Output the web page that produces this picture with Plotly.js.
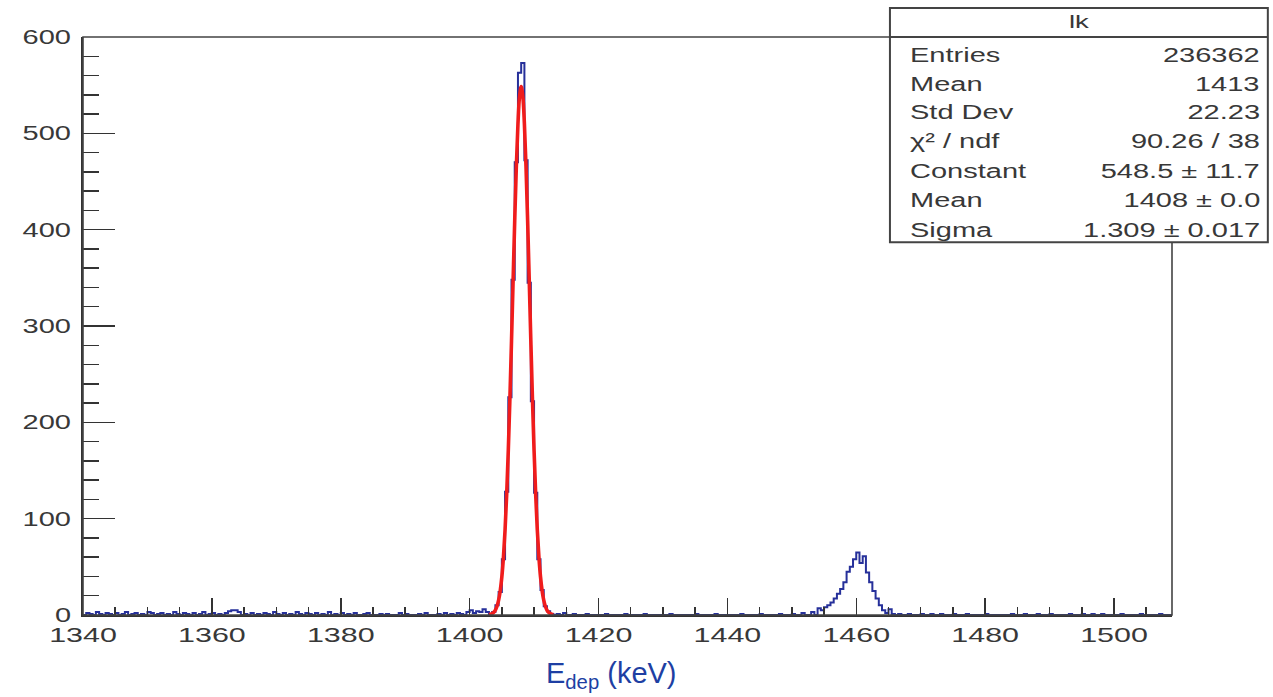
<!DOCTYPE html>
<html>
<head>
<meta charset="utf-8">
<script src="https://cdn.plot.ly/plotly-3.0.1.min.js"></script>
<style>
html,body{margin:0;padding:0;background:#fff;}
#plot{width:1273px;height:697px;}
</style>
</head>
<body>
<div id="plot"></div>
<script>
// ---------------- data ----------------
const xMin = 1340, xMax = 1509, binWidth = 0.5;

// main peak bins (low edges start at peak1Start)
const peak1Start = 1403.0;
const peak1Counts = [1, 3, 10, 24, 58, 128, 226, 348, 470, 563, 573, 472, 345, 222, 127, 58, 26, 9, 4, 1];

// second peak bins
const peak2Start = 1454.0;
const peak2Counts = [7, 5, 8, 10, 13, 17, 22, 27, 34, 45, 50, 58, 65, 54, 61, 44, 34, 25, 17, 10, 5, 2, 6, 1];

// sparse background bins (low edge, counts)
const noiseX = [1340.5,1341,1342,1342.5,1343.5,1344,1345,1346,1346.5,1347.5,1348,1349,1350,1350.5,1351.5,1352,1353,1354,1354.5,1355.5,1356,1357,1358,1358.5,1359.5,1360,1361,1362,1362.5,1363,1363.5,1364,1365,1366,1367,1368,1368.5,1369.5,1370,1371,1372,1373,1373.5,1374.5,1375,1376,1377,1378,1379,1380,1381,1382,1383.5,1384,1386,1387,1389,1390,1392,1393,1395,1396,1397,1398,1398.5,1399.5,1400,1400.5,1401,1401.5,1402,1402.5,
  1413.5,1414.5,1416,1418,1421,1424,1427,1431,1435,1438,1442,1445,1448,1450,1451.5,1453,
  1466.5,1468,1470,1471.5,1473,1475,1477,1480,1484,1486,1488,1490,1493,1495,1496.5,1498,1501,1504,1507];
const noiseY = [2,1,3,1,2,1,2,1,3,1,2,1,3,2,1,2,1,3,1,2,1,2,1,3,1,2,1,2,4,5,5,3,1,2,1,2,1,3,1,2,1,3,1,2,1,2,1,3,1,2,1,2,1,2,1,1,2,1,1,2,1,2,1,2,1,3,5,2,4,3,6,3,
  1,2,1,1,1,1,1,1,1,1,1,1,1,1,2,3,
  1,1,1,1,1,1,1,1,1,1,1,1,1,1,1,1,1,1,1];

// Gaussian fit curve points
const fitX = [1403,1403.25,1403.5,1403.75,1404,1404.25,1404.5,1404.75,1405,1405.25,1405.5,1405.75,1406,1406.25,1406.5,1406.75,1407,1407.25,1407.5,1407.75,1408,
  1408.25,1408.5,1408.75,1409,1409.25,1409.5,1409.75,1410,1410.25,1410.5,1410.75,1411,1411.25,1411.5,1411.75,1412,1412.25,1412.5,1412.75,1413];
const fitY = [0.37,0.76,1.49,2.82,5.14,9.06,15.4,25.2,39.7,60.4,88.5,125.2,170.7,224.4,284.5,347.7,409.7,465.5,509.9,538.6,548.5,
  538.6,509.9,465.5,409.7,347.7,284.5,224.4,170.7,125.2,88.5,60.4,39.7,25.2,15.4,9.06,5.14,2.82,1.49,0.76,0.37];

// axis ticks
const xTicks = [1340,1360,1380,1400,1420,1440,1460,1480,1500];
const yTicks = [0,100,200,300,400,500,600];

// stats box
const statHeader = "lk";
const statLabels = ["Entries","Mean","Std Dev","χ² / ndf","Constant","Mean","Sigma"];
const statValues = ["236362","1413","22.23","90.26 / 38","548.5 ± 11.7","1408 ± 0.0","1.309 ± 0.017"];

// ---------------- build histogram ----------------
const nBins = Math.round((xMax - xMin) / binWidth);
const counts = new Array(nBins).fill(0);
function put(start, arr){ arr.forEach((v,i)=>{ const k = Math.round((start - xMin)/binWidth) + i; if(k>=0&&k<nBins) counts[k]=v; }); }
noiseX.forEach((x,i)=>{ const k = Math.round((x - xMin)/binWidth); if(k>=0&&k<nBins) counts[k]=noiseY[i]; });
put(peak1Start, peak1Counts);
put(peak2Start, peak2Counts);
const hx = [], hy = [];
for(let i=0;i<nBins;i++){ hx.push(xMin + i*binWidth); hy.push(counts[i]); }
hx.push(xMax); hy.push(counts[nBins-1]);

const traces = [
  {x: hx, y: hy, type:'scatter', mode:'lines', line:{shape:'hv', color:'#26309a', width:2}, hoverinfo:'skip'},
  {x: fitX, y: fitY, type:'scatter', mode:'lines', line:{shape:'spline', color:'#f01c1c', width:3.6}, hoverinfo:'skip'}
];

// ---------------- layout ----------------
const txtColor = '#383838';
const fnt = 'Liberation Sans, Arial, sans-serif';
const boxX0 = 0.741, boxX1 = 1.088, boxY0 = 0.645, boxY1 = 1.050, boxHdr = 1.0;
const rowY = [0.969,0.919,0.870,0.820,0.768,0.718,0.666];
const annotations = [];
annotations.push({xref:'paper', yref:'paper', x:(boxX0+boxX1)/2, y:1.026, text:statHeader, showarrow:false, xanchor:'center', yanchor:'middle', font:{family:fnt,size:19,color:txtColor}});
statLabels.forEach((t,i)=>{
  annotations.push({xref:'paper', yref:'paper', x:0.7576, y:rowY[i], text:t, showarrow:false, xanchor:'left', align:'left', yanchor:'middle', font:{family:fnt,size:20,color:txtColor}});
  annotations.push({xref:'paper', yref:'paper', x:1.0825, y:rowY[i], text:statValues[i], showarrow:false, xanchor:'right', align:'right', yanchor:'middle', font:{family:fnt,size:20,color:txtColor}});
});
const titleIndex = annotations.length;
annotations.push({xref:'paper', yref:'paper', x:0.485, y:-0.104, text:'E<sub>dep</sub> (keV)', showarrow:false, xanchor:'center', yanchor:'middle', font:{family:fnt,size:29,color:'#1e3fa3'}});

const layout = {
  width:1273, height:697,
  margin:{l:83, r:101, t:37, b:82, pad:0},
  paper_bgcolor:'#ffffff', plot_bgcolor:'#ffffff',
  showlegend:false,
  xaxis:{range:[xMin,xMax], tickmode:'array', tickvals:xTicks, ticktext:xTicks.map(String),
    ticks:'inside', ticklen:17, tickwidth:1.5, tickcolor:'#333',
    minor:{dtick:5, tick0:1340, ticks:'inside', ticklen:8, tickwidth:1.5, tickcolor:'#333'},
    showline:true, linewidth:2, linecolor:'#333', showgrid:false, zeroline:false,
    tickfont:{family:fnt, size:21, color:txtColor}, ticklabelstandoff:0},
  yaxis:{range:[0,600], tickmode:'array', tickvals:yTicks, ticktext:yTicks.map(String),
    ticks:'inside', ticklen:32, tickwidth:1.5, tickcolor:'#333',
    minor:{dtick:20, tick0:0, ticks:'inside', ticklen:16, tickwidth:1.5, tickcolor:'#333'},
    showline:true, linewidth:2, linecolor:'#333', showgrid:false, zeroline:false,
    tickfont:{family:fnt, size:20, color:txtColor}, ticklabelstandoff:6},
  shapes:[
    {type:'rect', xref:'paper', yref:'paper', x0:0, x1:1, y0:0, y1:1, line:{color:'#444', width:1.6}, layer:'above'},
    {type:'rect', xref:'paper', yref:'paper', x0:boxX0, x1:boxX1, y0:boxY0, y1:boxY1, fillcolor:'#ffffff', line:{color:'#444', width:2}, layer:'above'},
    {type:'line', xref:'paper', yref:'paper', x0:boxX0, x1:boxX1, y0:boxHdr, y1:boxHdr, line:{color:'#444', width:2}, layer:'above'}
  ],
  annotations: annotations
};

const STRETCH = 1.45;
function stretchText(gd){
  const els = [];
  gd.querySelectorAll('.xtick text, .ytick text').forEach(e=>els.push(e));
  gd.querySelectorAll('g.annotation').forEach(g=>{
    const idx = +g.getAttribute('data-index');
    if(idx !== titleIndex){ const t = g.querySelector('text.annotation-text'); if(t) els.push(t); }
  });
  els.forEach(t=>{
    const w = t.getComputedTextLength();
    if(w>0){ t.setAttribute('textLength', (w*STRETCH).toFixed(1)); t.setAttribute('lengthAdjust','spacingAndGlyphs'); }
  });
}

Plotly.newPlot('plot', traces, layout, {displayModeBar:false, staticPlot:true}).then(gd=>{ stretchText(gd); });
</script>
</body>
</html>
